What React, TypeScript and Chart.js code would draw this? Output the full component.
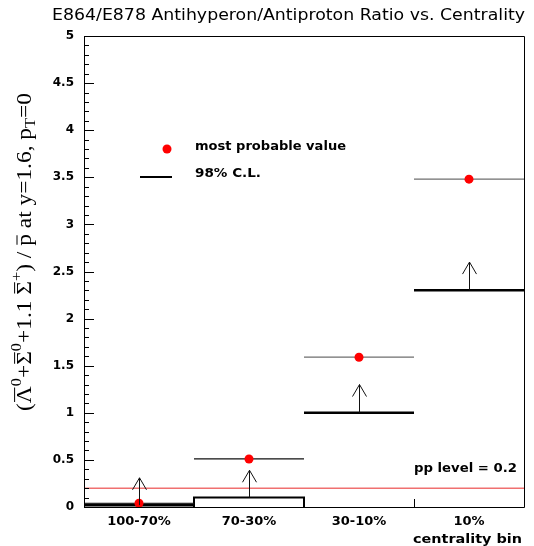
import React, { useEffect, useRef } from 'react';
import { Chart, registerables } from 'chart.js';

Chart.register(...registerables);

// ---- data ----
const categories = ['100-70%', '70-30%', '30-10%', '10%'];
const mostProbable = [0.04, 0.51, 1.59, 3.48];
const clLower = [0.02, 0.1, 1.0, 2.3];
const arrowTop = [0.31, 0.39, 1.3, 2.6];
const ppLevel = 0.2;
const yTickValues = [0, 0.5, 1, 1.5, 2, 2.5, 3, 3.5, 4, 4.5, 5];
const yMinorStep = 0.1;
const yMin = 0;
const yMax = 5;

// ---- styles ----
const mpLineColors = ['#111111', '#111111', '#6e6e6e', '#6e6e6e'];
const SANS = '"DejaVu Sans", "Liberation Sans", sans-serif';
const SERIF = '"Liberation Serif", "DejaVu Serif", serif';

function fitText(ctx: CanvasRenderingContext2D, text: string, x: number, y: number, width: number, align: 'left' | 'right') {
  const w = ctx.measureText(text).width;
  const s = width / w;
  ctx.save();
  ctx.textAlign = 'left';
  ctx.translate(align === 'left' ? x : x - width, y);
  ctx.scale(s, 1);
  ctx.fillText(text, 0, 0);
  ctx.restore();
}

const overlay = {
  id: 'overlay',
  afterDraw(chart: any) {
    const ctx: CanvasRenderingContext2D = chart.ctx;
    const xs = chart.scales.x;
    const ys = chart.scales.y;
    const a = chart.chartArea;
    ctx.save();

    // frame
    ctx.strokeStyle = '#000';
    ctx.lineWidth = 1;
    ctx.beginPath();
    ctx.rect(Math.round(a.left) + 0.5, Math.round(a.top) + 0.5, Math.round(a.right - a.left), Math.round(a.bottom - a.top));
    ctx.stroke();

    // y ticks inward
    ctx.beginPath();
    for (let v = yMin; v <= yMax + 1e-9; v += yMinorStep) {
      const r = Math.round(v * 10) / 10;
      const major = Math.abs(r * 2 - Math.round(r * 2)) < 1e-6;
      const y = Math.round(ys.getPixelForValue(r)) + 0.5;
      ctx.moveTo(a.left, y);
      ctx.lineTo(a.left + (major ? 10 : 5), y);
    }
    // x ticks at bin edges
    for (let i = 1; i < categories.length; i++) {
      const x = Math.round(xs.getPixelForValue(i)) + 0.5;
      ctx.moveTo(x, a.bottom);
      ctx.lineTo(x, a.bottom - 8);
    }
    ctx.stroke();

    // arrows
    ctx.strokeStyle = '#111';
    ctx.lineWidth = 1;
    for (let i = 0; i < categories.length; i++) {
      const x = Math.round(xs.getPixelForValue(i + 0.5)) + 0.5;
      const y0 = ys.getPixelForValue(clLower[i]);
      const y1 = ys.getPixelForValue(arrowTop[i]);
      ctx.beginPath();
      ctx.moveTo(x, y0);
      ctx.lineTo(x, y1);
      ctx.moveTo(x - 7, y1 + 12);
      ctx.lineTo(x, y1);
      ctx.lineTo(x + 7, y1 + 12);
      ctx.stroke();
    }

    // legend
    ctx.fillStyle = '#ff0000';
    ctx.beginPath();
    ctx.arc(167, 149, 4.5, 0, Math.PI * 2);
    ctx.fill();
    ctx.strokeStyle = '#000';
    ctx.lineWidth = 2;
    ctx.beginPath();
    ctx.moveTo(140, 177);
    ctx.lineTo(172, 177);
    ctx.stroke();
    ctx.fillStyle = '#000';
    ctx.textBaseline = 'alphabetic';
    ctx.font = `bold 13px ${SANS}`;
    fitText(ctx, 'most probable value', 195, 150, 151, 'left');
    fitText(ctx, '98% C.L.', 195, 177, 66, 'left');

    // pp level text
    fitText(ctx, `pp level = ${ppLevel}`, 517, 472, 103, 'right');

    // x axis title
    fitText(ctx, 'centrality bin', 522, 543, 109, 'right');

    // title (fit to width)
    ctx.font = `16px ${SANS}`;
    fitText(ctx, 'E864/E878 Antihyperon/Antiproton Ratio vs. Centrality', 52, 20, 473, 'left');

    // y axis title (rich text, rotated)
    const fs = 20;
    type Piece = { t: string; k: number; dy: number; bar?: boolean; barH?: number };
    const pieces: Piece[] = [
      { t: '(', k: 1, dy: 0 },
      { t: 'Λ', k: 1, dy: 0, bar: true, barH: 0.82 },
      { t: '0', k: 0.7, dy: 0.5 },
      { t: '+', k: 1, dy: 0 },
      { t: 'Σ', k: 1, dy: 0, bar: true, barH: 0.82 },
      { t: '0', k: 0.7, dy: 0.5 },
      { t: '+1.1 ', k: 1, dy: 0 },
      { t: 'Σ', k: 1, dy: 0, bar: true, barH: 0.82 },
      { t: '+', k: 0.7, dy: 0.5 },
      { t: ') / ', k: 1, dy: 0 },
      { t: 'p', k: 1, dy: 0, bar: true, barH: 0.7 },
      { t: ' at y=1.6, p', k: 1, dy: 0 },
      { t: 'T', k: 0.7, dy: -0.22 },
      { t: '=0', k: 1, dy: 0 },
    ];
    let total = 0;
    const widths: number[] = [];
    for (const p of pieces) {
      ctx.font = `${fs * p.k}px ${SERIF}`;
      const w = ctx.measureText(p.t).width;
      widths.push(w);
      total += w;
    }
    const targetLen = 318;
    ctx.save();
    ctx.translate(31, 252);
    ctx.rotate(-Math.PI / 2);
    ctx.scale(targetLen / total, 1);
    ctx.textAlign = 'left';
    ctx.textBaseline = 'alphabetic';
    ctx.fillStyle = '#000';
    ctx.strokeStyle = '#000';
    ctx.lineWidth = 1;
    let cx = -total / 2;
    pieces.forEach((p, i) => {
      ctx.font = `${fs * p.k}px ${SERIF}`;
      ctx.fillText(p.t, cx, -p.dy * fs);
      if (p.bar) {
        const by = -(p.barH || 0.82) * fs;
        ctx.beginPath();
        ctx.moveTo(cx + 1, by);
        ctx.lineTo(cx + widths[i] - 1, by);
        ctx.stroke();
      }
      cx += widths[i];
    });
    ctx.restore();

    ctx.restore();
  },
};

export default function App() {
  const ref = useRef<HTMLCanvasElement | null>(null);
  useEffect(() => {
    document.body.style.margin = '0';
    const canvas = ref.current;
    if (!canvas) return;

    const datasets: any[] = [];
    // dots (first -> drawn on top)
    datasets.push({
      label: 'most probable value',
      data: mostProbable.map((v, i) => ({ x: i + 0.5, y: v })),
      showLine: false,
      pointRadius: 4.5,
      pointBackgroundColor: '#ff0000',
      pointBorderWidth: 0,
      borderColor: '#ff0000',
    });
    // most probable horizontal lines
    mostProbable.forEach((v, i) => {
      datasets.push({
        data: [{ x: i, y: v }, { x: i + 1, y: v }],
        showLine: true,
        pointRadius: 0,
        borderColor: mpLineColors[i],
        borderWidth: 1.2,
      });
    });
    // 98% C.L. lower limits: step for first two bins
    datasets.push({
      data: [
        { x: 0, y: clLower[0] },
        { x: 1, y: clLower[0] },
      ],
      showLine: true,
      pointRadius: 0,
      borderColor: '#000',
      borderWidth: 3,
    });
    datasets.push({
      data: [
        { x: 1, y: 0 },
        { x: 1, y: clLower[1] },
        { x: 2, y: clLower[1] },
        { x: 2, y: 0 },
      ],
      showLine: true,
      pointRadius: 0,
      borderColor: '#000',
      borderWidth: 2,
      borderJoinStyle: 'miter',
    });
    for (let i = 2; i < categories.length; i++) {
      datasets.push({
        data: [
          { x: i, y: clLower[i] },
          { x: i + 1, y: clLower[i] },
        ],
        showLine: true,
        pointRadius: 0,
        borderColor: '#000',
        borderWidth: 2.5,
      });
    }
    // pp level
    datasets.push({
      data: [
        { x: 0, y: ppLevel },
        { x: categories.length, y: ppLevel },
      ],
      showLine: true,
      pointRadius: 0,
      borderColor: '#f07070',
      borderWidth: 1.5,
    });

    const chart = new Chart(canvas, {
      type: 'scatter',
      data: { datasets },
      options: {
        animation: false,
        responsive: false,
        devicePixelRatio: 1,
        layout: { padding: { top: 36, right: 10, left: 0, bottom: 0 } },
        plugins: { legend: { display: false }, tooltip: { enabled: false }, title: { display: false } },
        scales: {
          x: {
            type: 'linear',
            min: 0,
            max: categories.length,
            grid: { display: false, drawTicks: false },
            border: { display: false },
            afterBuildTicks: (s: any) => {
              s.ticks = categories.map((_, i) => ({ value: i + 0.5 }));
            },
            afterFit: (s: any) => {
              s.height = 39;
            },
            ticks: {
              autoSkip: false,
              maxRotation: 0,
              padding: 7,
              color: '#000',
              font: { family: SANS, size: 13, weight: 'bold' },
              callback: (v: any) => {
                const idx = Math.round(Number(v) - 0.5);
                return categories[idx] ?? '';
              },
            },
          },
          y: {
            type: 'linear',
            min: yMin,
            max: yMax,
            grid: { display: false, drawTicks: false },
            border: { display: false },
            afterBuildTicks: (s: any) => {
              s.ticks = yTickValues.map((v) => ({ value: v }));
            },
            afterFit: (s: any) => {
              s.width = 84;
            },
            ticks: {
              padding: 10,
              color: '#000',
              font: { family: SANS, size: 12, weight: 'bold' },
              callback: (v: any) => String(v),
            },
          },
        },
      },
      plugins: [overlay],
    });
    return () => chart.destroy();
  }, []);

  return (
    <div style={{ width: 534, height: 546, background: '#fff' }}>
      <canvas ref={ref} width={534} height={546} style={{ width: 534, height: 546, display: 'block' }} />
    </div>
  );
}
